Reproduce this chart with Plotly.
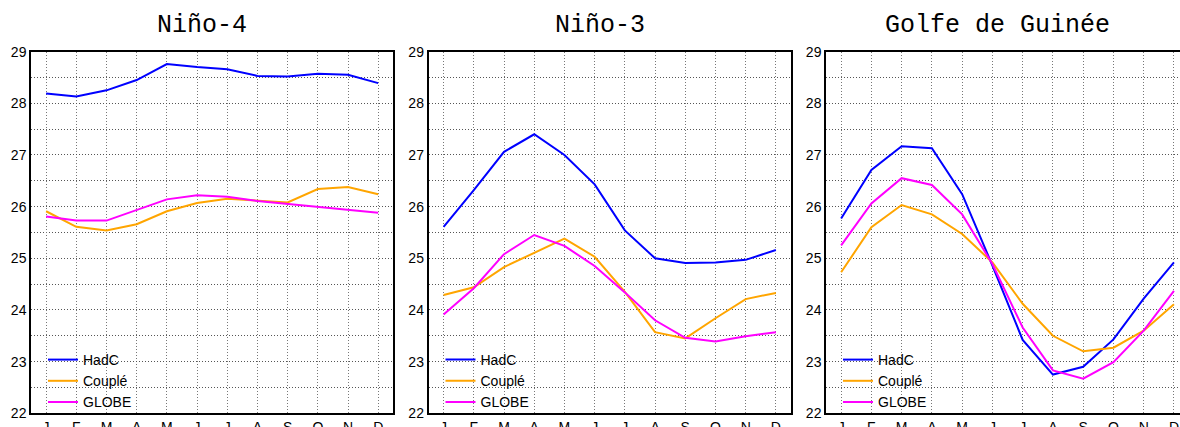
import plotly.graph_objects as go

months = ["J", "F", "M", "A", "M", "J", "J", "A", "S", "O", "N", "D"]
month_idx = list(range(12))
titles = ["Niño-4", "Niño-3", "Golfe de Guinée"]
series_names = ["HadC", "Couplé", "GLOBE"]
series_colors = ["#0000ff", "#ffa500", "#ff00ff"]

nino4_hadc = [28.19, 28.13, 28.25, 28.45, 28.76, 28.70, 28.66, 28.53, 28.52, 28.57, 28.55, 28.39]
nino4_couple = [25.91, 25.61, 25.54, 25.66, 25.91, 26.07, 26.15, 26.11, 26.08, 26.34, 26.38, 26.24]
nino4_globe = [25.81, 25.73, 25.73, 25.93, 26.14, 26.22, 26.19, 26.11, 26.05, 26.00, 25.94, 25.88]

nino3_hadc = [25.61, 26.32, 27.06, 27.40, 27.00, 26.43, 25.54, 25.00, 24.91, 24.92, 24.97, 25.16]
nino3_couple = [24.29, 24.44, 24.83, 25.11, 25.38, 25.03, 24.35, 23.57, 23.45, 23.84, 24.21, 24.33]
nino3_globe = [23.91, 24.42, 25.08, 25.45, 25.24, 24.85, 24.34, 23.80, 23.46, 23.39, 23.49, 23.57]

guinee_hadc = [25.77, 26.71, 27.17, 27.13, 26.24, 24.86, 23.42, 22.75, 22.90, 23.43, 24.22, 24.92]
guinee_couple = [24.73, 25.60, 26.03, 25.85, 25.47, 24.92, 24.12, 23.50, 23.20, 23.27, 23.60, 24.11]
guinee_globe = [25.25, 26.06, 26.55, 26.42, 25.85, 24.89, 23.66, 22.83, 22.67, 22.99, 23.60, 24.37]

panels = [
    [nino4_hadc, nino4_couple, nino4_globe],
    [nino3_hadc, nino3_couple, nino3_globe],
    [guinee_hadc, guinee_couple, guinee_globe],
]

W, H = 1180, 427
x_domains_px = [(31, 393.3), (428.5, 791), (826, 1180)]
x_ranges = [[-0.5, 11.5], [-0.5, 11.5], [-0.5, 11.2]]
title_centers_px = [202, 599.5, 997.5]
y_top_px, y_bot_px = 51.6, 413.3

fig = go.Figure()
for p, data in enumerate(panels):
    ax = "" if p == 0 else str(p + 1)
    leg = "legend" if p == 0 else "legend" + str(p + 1)
    for s, vals in enumerate(data):
        fig.add_trace(go.Scatter(
            x=month_idx, y=vals, mode="lines", name=series_names[s],
            line=dict(color=series_colors[s], width=2),
            xaxis="x" + ax, yaxis="y" + ax, legend=leg,
        ))

axis_font = dict(family="Liberation Sans, Arial, sans-serif", size=14, color="#000")
grid_col = "#555"
layout = dict(
    width=W, height=H,
    margin=dict(l=0, r=0, t=0, b=0),
    paper_bgcolor="white", plot_bgcolor="white",
    showlegend=True,
    annotations=[],
)
for p in range(3):
    ax = "" if p == 0 else str(p + 1)
    x0, x1 = x_domains_px[p]
    layout["xaxis" + ax] = dict(
        domain=[x0 / W, x1 / W], range=x_ranges[p],
        tickvals=month_idx, ticktext=months, tickfont=axis_font,
        showgrid=True, gridcolor="#777", griddash="1px,2px", gridwidth=1,
        showline=True, linecolor="#000", linewidth=1.5, mirror=True,
        ticks="", zeroline=False, automargin=False,
        anchor="y" + ax,
    )
    layout["yaxis" + ax] = dict(
        domain=[1 - y_bot_px / H, 1 - y_top_px / H], range=[22, 29],
        dtick=1, tick0=22, tickfont=axis_font,
        showgrid=True, gridcolor=grid_col, griddash="1px,2px", gridwidth=1,
        minor=dict(dtick=0.5, showgrid=True, gridcolor=grid_col, griddash="1px,2px", gridwidth=1),
        showline=True, linecolor="#000", linewidth=1.5, mirror=True,
        ticks="", zeroline=False, automargin=False,
        anchor="x" + ax,
    )
    leg = "legend" if p == 0 else "legend" + str(p + 1)
    layout[leg] = dict(
        x=(x0 + 12) / W, xanchor="left", y=1 - 344 / H, yanchor="top",
        bgcolor="rgba(0,0,0,0)", borderwidth=0,
        font=dict(family="Liberation Sans, Arial, sans-serif", size=14, color="#000"),
        tracegroupgap=0,
    )
    layout["annotations"].append(dict(
        text=titles[p], x=title_centers_px[p] / W, y=1 - 25.5 / H,
        xref="paper", yref="paper", xanchor="center", yanchor="middle",
        showarrow=False,
        font=dict(family="Liberation Mono, DejaVu Sans Mono, monospace", size=25, color="#000"),
    ))

fig.update_layout(**layout)
fig.write_html(
    "out.html",
    config={"displayModeBar": False},
    post_script="document.body.style.margin='0';document.body.style.overflow='hidden';",
)
